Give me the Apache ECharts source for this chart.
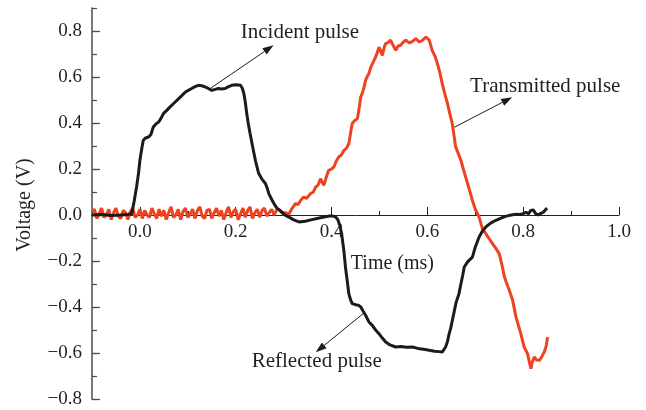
<!DOCTYPE html>
<html><head><meta charset="utf-8">
<script src="https://cdn.jsdelivr.net/npm/echarts@6/dist/echarts.min.js"></script>
<style>html,body{margin:0;padding:0;background:#fff}#c{width:646px;height:410px}</style>
</head><body><div id="c"></div>
<script>
// ---- data ----
const incidentTime = [-0.100,-0.080,-0.060,-0.040,-0.025,-0.017,-0.012,-0.007,-0.003,0.000,0.004,0.007,0.012,0.018,0.023,0.028,0.033,0.039,0.044,0.049,0.056,0.063,0.072,0.081,0.088,0.095,0.102,0.108,0.115,0.122,0.129,0.136,0.143,0.150,0.157,0.164,0.171,0.178,0.185,0.192,0.200,0.210,0.214,0.217,0.220,0.223,0.226,0.230,0.235,0.241,0.248,0.255,0.262,0.266,0.269,0.276,0.281,0.286,0.292,0.298,0.305,0.311,0.320,0.332,0.345,0.359,0.372,0.387,0.395,0.402,0.408,0.413,0.418,0.422,0.426,0.429,0.433,0.436,0.440,0.443,0.450,0.456,0.461,0.466,0.471,0.478,0.485,0.492,0.499,0.506,0.513,0.522,0.534,0.545,0.556,0.569,0.580,0.592,0.604,0.615,0.624,0.631,0.635,0.638,0.642,0.645,0.649,0.652,0.656,0.660,0.666,0.670,0.674,0.677,0.684,0.694,0.700,0.708,0.715,0.722,0.732,0.743,0.755,0.765,0.775,0.785,0.793,0.800,0.806,0.811,0.816,0.821,0.826,0.831,0.836,0.842,0.847,0.850];
const incidentVoltage = [0.000,0.002,-0.002,0.000,0.002,0.006,0.060,0.122,0.180,0.238,0.290,0.325,0.335,0.339,0.350,0.383,0.395,0.404,0.420,0.441,0.455,0.470,0.488,0.506,0.520,0.535,0.543,0.550,0.558,0.564,0.562,0.557,0.550,0.542,0.546,0.550,0.548,0.550,0.558,0.564,0.566,0.564,0.550,0.528,0.490,0.441,0.400,0.354,0.300,0.238,0.180,0.155,0.137,0.115,0.093,0.064,0.045,0.030,0.020,0.008,-0.003,-0.009,-0.020,-0.030,-0.027,-0.020,-0.014,-0.008,-0.004,-0.004,-0.008,-0.020,-0.050,-0.096,-0.160,-0.226,-0.290,-0.342,-0.370,-0.385,-0.390,-0.392,-0.400,-0.418,-0.436,-0.465,-0.480,-0.500,-0.516,-0.535,-0.552,-0.565,-0.574,-0.572,-0.575,-0.574,-0.580,-0.584,-0.588,-0.592,-0.594,-0.596,-0.588,-0.574,-0.550,-0.520,-0.490,-0.460,-0.420,-0.380,-0.342,-0.300,-0.260,-0.226,-0.204,-0.183,-0.140,-0.096,-0.070,-0.052,-0.035,-0.023,-0.012,-0.005,0.000,0.003,0.002,0.006,0.012,0.005,0.020,0.022,0.006,0.000,0.006,0.012,0.024,0.030];
const transmittedTime = [-0.100,-0.095,-0.090,-0.085,-0.080,-0.075,-0.070,-0.065,-0.060,-0.055,-0.050,-0.045,-0.040,-0.035,-0.030,-0.025,-0.020,-0.015,-0.010,-0.005,0.000,0.005,0.010,0.015,0.020,0.025,0.030,0.035,0.040,0.045,0.050,0.055,0.060,0.065,0.070,0.075,0.080,0.085,0.090,0.095,0.100,0.105,0.110,0.115,0.120,0.125,0.130,0.135,0.140,0.145,0.150,0.155,0.160,0.165,0.170,0.175,0.180,0.185,0.190,0.195,0.200,0.205,0.210,0.215,0.220,0.225,0.230,0.235,0.240,0.245,0.250,0.255,0.260,0.265,0.270,0.275,0.280,0.285,0.290,0.298,0.305,0.310,0.314,0.318,0.325,0.330,0.336,0.342,0.348,0.356,0.362,0.367,0.372,0.377,0.381,0.384,0.389,0.394,0.400,0.405,0.410,0.415,0.420,0.426,0.431,0.436,0.440,0.443,0.448,0.454,0.458,0.461,0.465,0.468,0.471,0.474,0.478,0.482,0.487,0.492,0.496,0.499,0.503,0.506,0.510,0.513,0.518,0.523,0.528,0.534,0.539,0.544,0.550,0.555,0.562,0.569,0.576,0.583,0.590,0.597,0.604,0.610,0.616,0.621,0.626,0.631,0.636,0.642,0.647,0.652,0.656,0.659,0.664,0.670,0.675,0.680,0.687,0.694,0.700,0.708,0.715,0.722,0.728,0.736,0.743,0.750,0.756,0.761,0.766,0.771,0.778,0.785,0.790,0.795,0.802,0.806,0.809,0.813,0.816,0.819,0.823,0.828,0.834,0.839,0.844,0.848,0.851];
const transmittedVoltage = [0.015,0.025,-0.015,0.005,0.030,-0.010,0.000,0.025,-0.020,0.010,0.030,-0.005,-0.015,0.020,0.010,-0.020,0.015,0.030,-0.010,0.000,0.025,-0.015,0.020,0.000,-0.010,0.030,0.005,-0.015,0.025,-0.005,0.020,-0.020,0.010,0.035,-0.010,0.000,0.025,-0.020,0.015,0.030,-0.010,0.005,0.025,-0.015,0.020,0.035,-0.005,-0.015,0.020,0.025,-0.015,0.010,0.030,-0.005,0.020,-0.020,0.010,0.035,-0.010,0.015,0.025,-0.020,0.005,0.030,-0.010,0.020,0.035,-0.015,0.010,0.025,-0.010,0.020,0.030,-0.005,0.010,0.025,0.000,0.020,0.025,0.008,0.010,0.000,0.006,0.030,0.050,0.045,0.065,0.078,0.072,0.093,0.100,0.122,0.130,0.158,0.140,0.129,0.165,0.194,0.200,0.209,0.235,0.252,0.260,0.281,0.290,0.310,0.360,0.397,0.410,0.419,0.470,0.513,0.535,0.557,0.585,0.600,0.615,0.643,0.665,0.687,0.710,0.730,0.710,0.694,0.730,0.745,0.750,0.760,0.740,0.716,0.735,0.738,0.752,0.760,0.748,0.755,0.767,0.752,0.760,0.774,0.760,0.716,0.690,0.658,0.620,0.571,0.530,0.484,0.440,0.397,0.340,0.296,0.270,0.238,0.200,0.165,0.115,0.064,0.025,-0.009,-0.060,-0.081,-0.100,-0.124,-0.145,-0.168,-0.220,-0.270,-0.300,-0.327,-0.371,-0.443,-0.480,-0.516,-0.574,-0.590,-0.603,-0.640,-0.668,-0.640,-0.617,-0.630,-0.632,-0.615,-0.596,-0.570,-0.530];
const xTickValues = [0, 0.2, 0.4, 0.6, 0.8, 1.0];
const yTickValues = [-0.8, -0.6, -0.4, -0.2, 0, 0.2, 0.4, 0.6, 0.8];
const axisTitleX = 'Time (ms)';
const axisTitleY = 'Voltage (V)';
const annotationLabels = ['Incident pulse', 'Transmitted pulse', 'Reflected pulse'];
const annotationTextAt = [[0.334, 0.794], [0.846, 0.56], [0.369, -0.638]];
const annotationArrowFrom = [[0.1475, 0.551], [0.656, 0.381], [0.467, -0.427]];
const annotationArrowTo = [[0.279, 0.738], [0.777, 0.512], [0.367, -0.597]];
const xTitleAt = [0.527, -0.212];

// ---- rendering ----
const FONT = 'Liberation Serif';
const TXT = '#231f20';
const fmt = v => (v < 0 ? '\u2212' : '') + Math.abs(v).toFixed(1);
const zip = (a, b) => a.map((t, i) => [t, b[i]]);

const chart = echarts.init(document.getElementById('c'), null, {renderer: 'canvas'});
function xAxes(offset) {
  return [{
    type: 'value', min: -0.1, max: 1.0, position: 'bottom', offset: offset,
    axisLine: {onZero: false, lineStyle: {color: '#222', width: 1}},
    axisTick: {inside: true, length: 8, customValues: xTickValues, lineStyle: {color: '#222', width: 1}},
    axisLabel: {customValues: xTickValues, formatter: fmt, margin: 8, fontFamily: FONT, fontSize: 19, color: TXT},
    splitLine: {show: false}
  }, {
    type: 'value', min: -0.1, max: 1.0, interval: 0.1, position: 'bottom', offset: offset,
    axisLine: {show: false, onZero: false},
    axisTick: {inside: true, length: 4, lineStyle: {color: '#222', width: 1}},
    axisLabel: {show: false},
    splitLine: {show: false}
  }];
}
chart.setOption({
  animation: false,
  backgroundColor: '#fff',
  grid: {left: 92, right: 27, top: 8, bottom: 11, containLabel: false, outerBoundsMode: 'none'},
  xAxis: xAxes(0),
  yAxis: [{
    type: 'value', min: -0.8, max: 0.9, position: 'left',
    axisLine: {show: true, onZero: false, lineStyle: {color: '#4d4d4d', width: 1.5}},
    axisTick: {inside: true, length: 8, customValues: yTickValues, lineStyle: {color: '#4d4d4d', width: 1.2}},
    axisLabel: {customValues: yTickValues, formatter: fmt, margin: 10, fontFamily: FONT, fontSize: 19, color: TXT},
    splitLine: {show: false}
  }, {
    type: 'value', min: -0.8, max: 0.9, interval: 0.1, position: 'left',
    axisLine: {show: false, onZero: false},
    axisTick: {inside: true, length: 5, lineStyle: {color: '#4d4d4d', width: 1.2}},
    axisLabel: {show: false},
    splitLine: {show: false}
  }],
  series: [{
    type: 'line', xAxisIndex: 0, yAxisIndex: 0, data: zip(transmittedTime, transmittedVoltage),
    showSymbol: false, symbol: 'none', lineStyle: {color: '#ee4322', width: 3}, z: 2
  }, {
    type: 'line', xAxisIndex: 0, yAxisIndex: 0, data: zip(incidentTime, incidentVoltage),
    showSymbol: false, symbol: 'none', lineStyle: {color: '#1b1b1b', width: 3}, z: 3
  }]
});

const toPx = p => chart.convertToPixel({xAxisIndex: 0, yAxisIndex: 0}, p);
// move the x axis up to the zero line of the voltage scale
const zeroY = toPx([0, 0])[1];
const bottomY = toPx([0, -0.8])[1];
chart.setOption({xAxis: xAxes(zeroY - bottomY)});

const graphics = [];
annotationLabels.forEach((label, i) => {
  const t = toPx(annotationTextAt[i]);
  const a = toPx(annotationArrowFrom[i]);
  const b = toPx(annotationArrowTo[i]);
  const dx = b[0] - a[0], dy = b[1] - a[1];
  const len = Math.hypot(dx, dy), ux = dx / len, uy = dy / len;
  const head = 11, half = 3.8;
  const bx = b[0] - ux * head, by = b[1] - uy * head;
  graphics.push({type: 'text', x: t[0], y: t[1], style: {text: label, fontFamily: FONT, fontSize: 21, fill: TXT, align: 'center', verticalAlign: 'middle'}});
  graphics.push({type: 'line', shape: {x1: a[0], y1: a[1], x2: bx, y2: by}, style: {stroke: '#1b1b1b', lineWidth: 1}});
  graphics.push({type: 'polygon', shape: {points: [[b[0], b[1]], [bx - uy * half, by + ux * half], [bx + uy * half, by - ux * half]]}, style: {fill: '#1b1b1b'}});
});
const tx = toPx(xTitleAt);
graphics.push({type: 'text', x: tx[0], y: tx[1], style: {text: axisTitleX, fontFamily: FONT, fontSize: 20, fill: TXT, align: 'center', verticalAlign: 'middle'}});
graphics.push({type: 'text', x: 25, y: 205, rotation: Math.PI / 2, style: {text: axisTitleY, fontFamily: FONT, fontSize: 20, fill: TXT, align: 'center', verticalAlign: 'middle'}});
chart.setOption({graphic: graphics});
</script>
</body></html>
